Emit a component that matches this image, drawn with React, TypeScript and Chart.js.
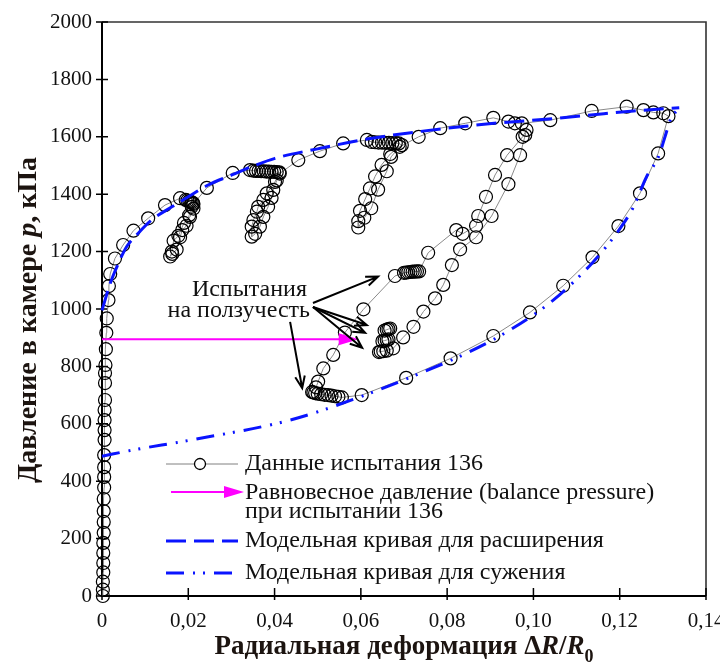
import React, { useEffect, useRef } from "react";
import { Chart, registerables } from "chart.js";

Chart.register(...registerables);

type P = [number, number];

const SERIF = "'Liberation Serif', 'Times New Roman', serif";

const X_TICKS = [0, 0.02, 0.04, 0.06, 0.08, 0.1, 0.12, 0.14];
const X_TICK_LABELS = ["0", "0,02", "0,04", "0,06", "0,08", "0,10", "0,12", "0,14"];
const Y_TICKS = [0, 200, 400, 600, 800, 1000, 1200, 1400, 1600, 1800, 2000];
const Y_TICK_LABELS = ["0", "200", "400", "600", "800", "1000", "1200", "1400", "1600", "1800", "2000"];

// ---- test 136 data ----
const initialLoading: P[] = [
  [0.0002, 0], [0.0002, 22], [0.0002, 50], [0.0003, 82], [0.0003, 115], [0.0003, 150],
  [0.0003, 185], [0.0004, 220], [0.0004, 258], [0.0004, 296], [0.0004, 338], [0.0005, 378],
  [0.0005, 415], [0.0005, 449], [0.0005, 491], [0.0006, 544], [0.0006, 578], [0.0006, 613],
  [0.0006, 648], [0.0007, 683], [0.0007, 742], [0.0007, 777], [0.0008, 805], [0.0009, 860],
  [0.001, 917], [0.0011, 967], [0.0015, 1031], [0.0016, 1080], [0.0019, 1122], [0.003, 1176],
  [0.0049, 1223], [0.0073, 1273], [0.0107, 1316], [0.0146, 1362], [0.0181, 1386],
];
const creepLoop1: P[] = [
  [0.0194, 1380], [0.0198, 1378], [0.0202, 1376], [0.0205, 1374], [0.0208, 1372], [0.0211, 1369],
  [0.0212, 1350], [0.0204, 1321], [0.019, 1300], [0.0177, 1255], [0.0166, 1238], [0.0162, 1200],
  [0.0158, 1183], [0.0163, 1192], [0.0173, 1207], [0.0181, 1250], [0.0186, 1275], [0.0196, 1290],
  [0.0202, 1327], [0.0208, 1356], [0.0212, 1366],
];
const envelope12: P[] = [[0.0243, 1422], [0.0303, 1474], [0.0343, 1484]];
const creepLoop2: P[] = [
  [0.0351, 1482], [0.0357, 1481], [0.0363, 1481], [0.0369, 1480], [0.0375, 1480], [0.0381, 1479],
  [0.0387, 1479], [0.0393, 1478], [0.0399, 1478], [0.0405, 1477], [0.0411, 1476],
  [0.0401, 1443], [0.0382, 1403], [0.0374, 1380], [0.0362, 1356], [0.0359, 1339], [0.0351, 1310],
  [0.0347, 1287], [0.0347, 1252], [0.0355, 1262], [0.0366, 1287], [0.0374, 1321], [0.0385, 1356],
  [0.0393, 1387], [0.0397, 1415], [0.0405, 1448], [0.0412, 1472],
];
const envelope23: P[] = [[0.0455, 1519], [0.0505, 1550], [0.0559, 1577], [0.0614, 1589]];
const creepLoop3: P[] = [
  [0.0625, 1582], [0.0633, 1581], [0.0641, 1580], [0.0649, 1580], [0.0657, 1579], [0.0665, 1579],
  [0.0673, 1578], [0.0681, 1578], [0.0688, 1577],
  [0.0695, 1571], [0.0668, 1540], [0.0648, 1502], [0.0633, 1462], [0.0621, 1420], [0.061, 1383],
  [0.0598, 1342], [0.0594, 1306], [0.0594, 1284], [0.0608, 1318], [0.0624, 1351], [0.064, 1416],
  [0.066, 1480], [0.067, 1530], [0.069, 1565],
];
const envelope34: P[] = [[0.0734, 1600], [0.0784, 1630], [0.0842, 1647], [0.0907, 1666]];
const creepTop: P[] = [[0.0942, 1653], [0.0957, 1647], [0.0973, 1647]];
const envelopeEnd: P[] = [
  [0.1039, 1658], [0.1135, 1690], [0.1216, 1705], [0.1255, 1693], [0.1278, 1685], [0.1301, 1682],
  [0.1313, 1672],
];
const finalUnloading: P[] = [
  [0.1289, 1542], [0.1247, 1403], [0.1197, 1289], [0.1137, 1180], [0.1069, 1081], [0.0992, 988],
  [0.0907, 906], [0.0808, 828], [0.0705, 760], [0.0602, 700],
];
const creep700: P[] = [
  [0.0556, 692], [0.0548, 694], [0.054, 696], [0.0532, 698], [0.0524, 700], [0.0516, 701],
  [0.0508, 703], [0.05, 705], [0.0494, 707], [0.049, 709], [0.0487, 711],
];
const reloadTo1130: P[] = [
  [0.0496, 727], [0.0501, 747], [0.0513, 793], [0.0536, 840], [0.0563, 918], [0.0606, 999],
  [0.0679, 1115],
];
const creep1130: P[] = [
  [0.07, 1126], [0.0705, 1127], [0.071, 1128], [0.0715, 1129], [0.072, 1130], [0.0725, 1130],
  [0.073, 1131], [0.0735, 1131],
];
const reloadUpper: P[] = [
  [0.0756, 1196], [0.0821, 1275], [0.0836, 1262], [0.0867, 1290], [0.0872, 1324], [0.089, 1391],
  [0.0911, 1467], [0.0939, 1536], [0.0975, 1600], [0.0984, 1624],
];
const unloadToBalance: P[] = [
  [0.0981, 1606], [0.0969, 1536], [0.0942, 1435], [0.0903, 1324], [0.0867, 1250], [0.083, 1208],
  [0.0811, 1153], [0.0791, 1084], [0.0772, 1037], [0.0745, 991], [0.0722, 938], [0.0698, 901],
  [0.0675, 863],
];
const balanceCreeps: P[] = [
  [0.066, 855], [0.0652, 853], [0.0646, 852], [0.0642, 850], [0.065, 888], [0.0655, 890],
  [0.066, 892], [0.0664, 894], [0.0655, 925], [0.066, 928], [0.0664, 930], [0.0668, 932],
];

const testPath: P[] = [
  ...initialLoading, ...creepLoop1, ...envelope12, ...creepLoop2, ...envelope23, ...creepLoop3,
  ...envelope34, ...creepTop, ...envelopeEnd, ...finalUnloading, ...creep700, ...reloadTo1130,
  ...creep1130, ...reloadUpper, ...unloadToBalance, ...balanceCreeps,
];

// ---- model curves ----
const expansionModel: P[] = [
  [0, 995], [0.0019, 1089], [0.0038, 1159], [0.0057, 1217], [0.0084, 1264], [0.0115, 1310],
  [0.0162, 1356], [0.02, 1391], [0.0246, 1432], [0.0301, 1467], [0.0347, 1496], [0.0401, 1525],
  [0.05, 1558], [0.0614, 1592], [0.0729, 1617], [0.0837, 1636], [0.0909, 1647], [0.1043, 1663],
  [0.1145, 1678], [0.1232, 1690], [0.1338, 1701],
];
const contractionModel: P[] = [
  [0, 487], [0.0073, 509], [0.0204, 543], [0.0436, 613], [0.059, 689], [0.0737, 776],
  [0.0845, 846], [0.0946, 927], [0.1046, 1031], [0.1139, 1165], [0.1201, 1281], [0.1232, 1356],
  [0.1262, 1460], [0.129, 1531], [0.1305, 1600], [0.1317, 1658], [0.1338, 1701],
];

// ---- annotations ----
const balancePressure = 895;
const balanceArrowEndX = 0.0595;
const creepLabelLines = ["Испытания", "на ползучесть"];
const creepArrowTails: P[] = [[0.0489, 1021], [0.0489, 1007], [0.0489, 1007], [0.0489, 1007], [0.0436, 955]];
const creepArrowHeads: P[] = [[0.064, 1113], [0.0614, 944], [0.061, 917], [0.0603, 865], [0.0464, 724]];

const legendLabels = [
  "Данные испытания 136",
  "Равновесное давление (balance pressure)",
  "при испытании 136",
  "Модельная кривая для расширения",
  "Модельная кривая для сужения",
];

const BLUE = "#0a14ff";
const DASHED = [20, 8];
const DASH_DOT = [18, 9, 2, 8, 2, 9];

const toXY = (arr: P[]) => arr.map(([x, y]) => ({ x, y }));

type Run = { text: string; italic?: boolean; sub?: boolean };

function drawRuns(ctx: CanvasRenderingContext2D, runs: Run[], cx: number, baseline: number, size: number) {
  const fonts = runs.map((r) => `${r.italic ? "italic " : ""}bold ${r.sub ? Math.round(size * 0.68) : size}px ${SERIF}`);
  let total = 0;
  const widths = runs.map((r, i) => {
    ctx.font = fonts[i];
    const w = ctx.measureText(r.text).width;
    total += w;
    return w;
  });
  let x = cx - total / 2;
  ctx.textBaseline = "alphabetic";
  ctx.textAlign = "left";
  runs.forEach((r, i) => {
    ctx.font = fonts[i];
    ctx.fillText(r.text, x, baseline + (r.sub ? size * 0.28 : 0));
    x += widths[i];
  });
}

function arrowV(ctx: CanvasRenderingContext2D, x1: number, y1: number, x2: number, y2: number, len: number) {
  const a = Math.atan2(y2 - y1, x2 - x1);
  ctx.beginPath();
  ctx.moveTo(x1, y1);
  ctx.lineTo(x2, y2);
  ctx.moveTo(x2 - len * Math.cos(a - 0.38), y2 - len * Math.sin(a - 0.38));
  ctx.lineTo(x2, y2);
  ctx.lineTo(x2 - len * Math.cos(a + 0.38), y2 - len * Math.sin(a + 0.38));
  ctx.stroke();
}

function magentaArrow(ctx: CanvasRenderingContext2D, x1: number, x2: number, y: number) {
  ctx.strokeStyle = "#ff00ff";
  ctx.fillStyle = "#ff00ff";
  ctx.lineWidth = 2;
  ctx.setLineDash([]);
  ctx.beginPath();
  ctx.moveTo(x1, y);
  ctx.lineTo(x2 - 14, y);
  ctx.stroke();
  ctx.beginPath();
  ctx.moveTo(x2, y);
  ctx.lineTo(x2 - 20, y - 6);
  ctx.lineTo(x2 - 20, y + 6);
  ctx.closePath();
  ctx.fill();
}

const decorPlugin = {
  id: "decor",
  beforeDatasetsDraw(chart: any) {
    const { ctx, chartArea: ca, scales } = chart;
    const xs = scales.x;
    const ys = scales.y;
    ctx.save();
    ctx.setLineDash([]);
    ctx.strokeStyle = "#333";
    ctx.lineWidth = 1.6;
    ctx.beginPath();
    ctx.moveTo(ca.left, ca.top);
    ctx.lineTo(ca.right, ca.top);
    ctx.lineTo(ca.right, ca.bottom);
    ctx.stroke();
    ctx.strokeStyle = "#000";
    ctx.lineWidth = 2;
    ctx.beginPath();
    ctx.moveTo(ca.left, ca.top);
    ctx.lineTo(ca.left, ca.bottom);
    ctx.lineTo(ca.right, ca.bottom);
    ctx.stroke();
    ctx.lineWidth = 1.5;
    ctx.beginPath();
    Y_TICKS.forEach((v) => {
      const py = ys.getPixelForValue(v);
      ctx.moveTo(ca.left - 6, py);
      ctx.lineTo(ca.left + 6, py);
    });
    X_TICKS.forEach((v) => {
      const px = xs.getPixelForValue(v);
      ctx.moveTo(px, ca.bottom + 4);
      ctx.lineTo(px, ca.bottom - 8);
    });
    ctx.stroke();

    ctx.fillStyle = "#111";
    ctx.font = `21px ${SERIF}`;
    ctx.textBaseline = "middle";
    ctx.textAlign = "right";
    Y_TICKS.forEach((v, i) => ctx.fillText(Y_TICK_LABELS[i], ca.left - 10, ys.getPixelForValue(v)));
    ctx.textAlign = "center";
    X_TICKS.forEach((v, i) => ctx.fillText(X_TICK_LABELS[i], xs.getPixelForValue(v), ca.bottom + 25));

    // axis titles
    ctx.fillStyle = "#1c1410";
    drawRuns(
      ctx,
      [{ text: "Радиальная деформация Δ" }, { text: "R", italic: true }, { text: "/" }, { text: "R", italic: true }, { text: "0", sub: true }],
      (ca.left + ca.right) / 2,
      654,
      27
    );
    ctx.save();
    ctx.translate(36, 320);
    ctx.rotate(-Math.PI / 2);
    drawRuns(ctx, [{ text: "Давление в камере " }, { text: "p", italic: true }, { text: ", кПа" }], 0, 0, 28);
    ctx.restore();
    ctx.restore();
  },
  afterDatasetsDraw(chart: any) {
    const { ctx, scales } = chart;
    const xs = scales.x;
    const ys = scales.y;
    ctx.save();
    // balance pressure arrow
    const by = ys.getPixelForValue(balancePressure);
    magentaArrow(ctx, xs.getPixelForValue(0), xs.getPixelForValue(balanceArrowEndX), by);

    // creep annotation
    ctx.strokeStyle = "#000";
    ctx.lineWidth = 2;
    ctx.setLineDash([]);
    creepArrowTails.forEach((t, i) => {
      const h = creepArrowHeads[i];
      arrowV(ctx, xs.getPixelForValue(t[0]), ys.getPixelForValue(t[1]), xs.getPixelForValue(h[0]), ys.getPixelForValue(h[1]), 13);
    });
    ctx.fillStyle = "#111";
    ctx.font = `24px ${SERIF}`;
    ctx.textAlign = "right";
    ctx.textBaseline = "middle";
    ctx.fillText(creepLabelLines[0], 307, 290);
    ctx.fillText(creepLabelLines[1], 310, 311);

    // legend
    const lx0 = 166;
    const lx1 = 238;
    const tx = 245;
    ctx.font = `24px ${SERIF}`;
    ctx.textAlign = "left";
    ctx.fillStyle = "#111";
    // data
    ctx.strokeStyle = "#808080";
    ctx.lineWidth = 1;
    ctx.beginPath();
    ctx.moveTo(lx0, 464);
    ctx.lineTo(lx1, 464);
    ctx.stroke();
    ctx.fillStyle = "#fff";
    ctx.strokeStyle = "#000";
    ctx.lineWidth = 1.3;
    ctx.beginPath();
    ctx.arc(200, 464, 5.5, 0, Math.PI * 2);
    ctx.fill();
    ctx.stroke();
    ctx.fillStyle = "#111";
    ctx.fillText(legendLabels[0], tx, 464);
    // balance
    magentaArrow(ctx, 171, 244, 492);
    ctx.fillStyle = "#111";
    ctx.fillText(legendLabels[1], tx, 493);
    ctx.fillText(legendLabels[2], tx, 512);
    // expansion
    ctx.strokeStyle = BLUE;
    ctx.lineWidth = 3;
    ctx.setLineDash(DASHED);
    ctx.beginPath();
    ctx.moveTo(lx0, 541);
    ctx.lineTo(lx1, 541);
    ctx.stroke();
    ctx.setLineDash(DASH_DOT);
    ctx.beginPath();
    ctx.moveTo(lx0, 573);
    ctx.lineTo(lx1, 573);
    ctx.stroke();
    ctx.setLineDash([]);
    ctx.fillText(legendLabels[3], tx, 541);
    ctx.fillText(legendLabels[4], tx, 573);
    ctx.restore();
  },
};

export default function App() {
  const ref = useRef<HTMLCanvasElement | null>(null);
  useEffect(() => {
    document.body.style.margin = "0";
    const canvas = ref.current;
    if (!canvas) return;
    const chart = new Chart(canvas, {
      type: "scatter",
      data: {
        datasets: [
          {
            label: "expansion",
            data: toXY(expansionModel),
            showLine: true,
            borderColor: BLUE,
            borderWidth: 3,
            borderDash: DASHED,
            pointRadius: 0,
            cubicInterpolationMode: "monotone",
            clip: false,
          } as any,
          {
            label: "contraction",
            data: toXY(contractionModel),
            showLine: true,
            borderColor: BLUE,
            borderWidth: 3,
            borderDash: DASH_DOT,
            pointRadius: 0,
            cubicInterpolationMode: "monotone",
            clip: false,
          } as any,
          {
            label: "test136",
            data: toXY(testPath),
            showLine: true,
            borderColor: "#8a8a8a",
            borderWidth: 1,
            pointRadius: 6.5,
            pointBorderColor: "#000",
            pointBackgroundColor: "rgba(0,0,0,0)",
            pointBorderWidth: 1.2,
            clip: false,
          } as any,
        ],
      },
      options: {
        animation: false,
        responsive: false,
        devicePixelRatio: 1,
        layout: { padding: { top: 22, right: 14, left: 0, bottom: 0 } },
        plugins: { legend: { display: false }, tooltip: { enabled: false } },
        events: [],
        scales: {
          x: {
            type: "linear",
            min: 0,
            max: 0.14,
            grid: { display: false },
            border: { display: false },
            ticks: { display: false },
            afterFit: (s: any) => {
              s.height = 66;
            },
          },
          y: {
            type: "linear",
            min: 0,
            max: 2000,
            grid: { display: false },
            border: { display: false },
            ticks: { display: false },
            afterFit: (s: any) => {
              s.width = 102;
            },
          },
        },
      } as any,
      plugins: [decorPlugin],
    });
    return () => chart.destroy();
  }, []);
  return <canvas ref={ref} width={720} height={662} style={{ display: "block" }} />;
}
